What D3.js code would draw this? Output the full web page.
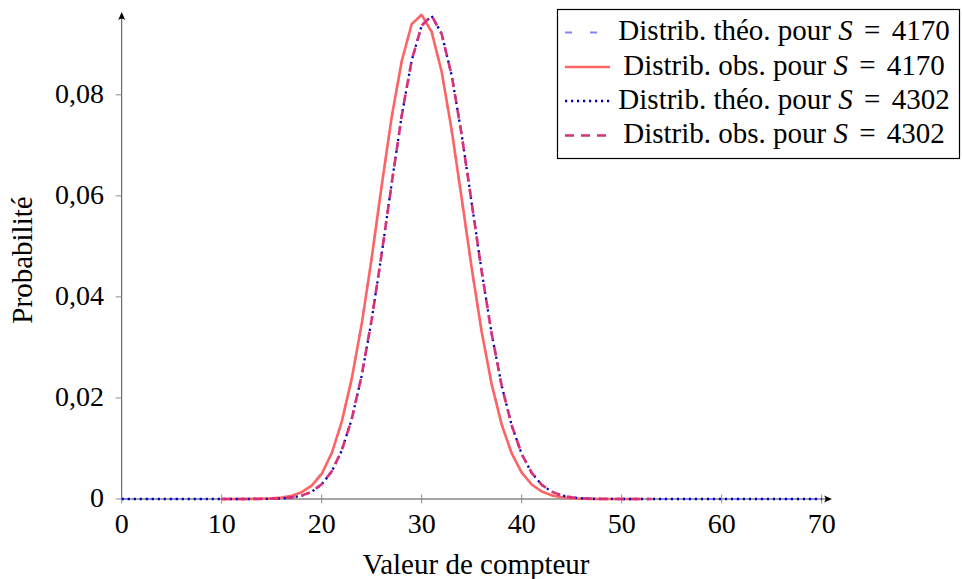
<!DOCTYPE html>
<html>
<head>
<meta charset="utf-8">
<script src="https://cdn.jsdelivr.net/npm/d3@7"></script>
<style>
  html, body { margin: 0; padding: 0; background: #fff; }
  svg { display: block; }
  text { font-family: "Liberation Serif", "Times New Roman", serif; fill: #000; }
</style>
</head>
<body>
<svg id="chart" width="962" height="579"></svg>
<script>
// Counter values (x axis)
const countsTheo = d3.range(0, 71);      // theoretical curves: 0..70
const countsObs4170 = d3.range(10, 53);  // observed, S = 4170
const countsObs4302 = d3.range(10, 54);  // observed, S = 4302

// Theoretical distribution, S = 4170 (values for counts 0..70)
const theo4170 = [
  0, 0, 0, 0, 0, 0, 0, 0, 0, 0,
  0, 0.000001, 0.000003, 0.000012, 0.000035, 0.000098, 0.000251, 0.000596, 0.001312, 0.002687,
  0.005124, 0.009125, 0.015202, 0.023729, 0.034757, 0.047833, 0.061922, 0.075475, 0.086694, 0.093910,
  0.095994, 0.092645, 0.084451, 0.072736, 0.059203, 0.045546, 0.033121, 0.022764, 0.014786, 0.009074,
  0.005261, 0.002879, 0.001487, 0.000724, 0.000332, 0.000144, 0.000058, 0.000022, 0.000008, 0.000003,
  0.000001, 0, 0, 0, 0, 0, 0, 0, 0, 0,
  0, 0, 0, 0, 0, 0, 0, 0, 0, 0,
  0
];

// Observed distribution, S = 4170 (counts 10..52)
const obs4170 = [
  0, 0, 0, 0.00002, 0.00005, 0.00012, 0.00029, 0.00064, 0.00136, 0.00265,
  0.00498, 0.00905, 0.01527, 0.02378, 0.03462, 0.04771, 0.06205, 0.07561, 0.08665, 0.09402,
  0.09582, 0.09241, 0.08452, 0.07296, 0.05948, 0.04573, 0.03305, 0.02268, 0.01471, 0.00904,
  0.00522, 0.00287, 0.00149, 0.00072, 0.00034, 0.00014, 0.00006, 0.00003, 0.00001, 0,
  0, 0, 0
];

// Theoretical distribution, S = 4302 (values for counts 0..70)
const theo4302 = [
  0, 0, 0, 0, 0, 0, 0, 0, 0, 0,
  0, 0, 0.000001, 0.000004, 0.000014, 0.000042, 0.000113, 0.000285, 0.000662, 0.001432,
  0.002886, 0.005431, 0.009559, 0.015765, 0.024400, 0.035480, 0.048529, 0.062499, 0.075853, 0.086817,
  0.093768, 0.095618, 0.092096, 0.083810, 0.072079, 0.058591, 0.045018, 0.032693, 0.022437, 0.014549,
  0.008911, 0.005153, 0.002812, 0.001447, 0.000702, 0.000320, 0.000138, 0.000056, 0.000021, 0.000008,
  0.000003, 0.000001, 0, 0, 0, 0, 0, 0, 0, 0,
  0, 0, 0, 0, 0, 0, 0, 0, 0, 0,
  0
];

// Observed distribution, S = 4302 (counts 10..53)
const obs4302 = [
  0, 0, 0, 0.00001, 0.00002, 0.00005, 0.00012, 0.00030, 0.00067, 0.00146,
  0.00292, 0.00547, 0.00960, 0.01581, 0.02447, 0.03552, 0.04860, 0.06244, 0.07580, 0.08688,
  0.09371, 0.09565, 0.09203, 0.08386, 0.07202, 0.05865, 0.04497, 0.03272, 0.02240, 0.01457,
  0.00889, 0.00517, 0.00280, 0.00146, 0.00070, 0.00032, 0.00014, 0.00006, 0.00002, 0.00001,
  0, 0, 0, 0
];

const xTicks = [0, 10, 20, 30, 40, 50, 60, 70];
const yTicks = [0, 0.02, 0.04, 0.06, 0.08];
const yTickLabels = ["0", "0,02", "0,04", "0,06", "0,08"];

const seriesNames = [
  { label: "Distrib. théo. pour ", s: "4170" },
  { label: "Distrib. obs. pour ", s: "4170" },
  { label: "Distrib. théo. pour ", s: "4302" },
  { label: "Distrib. obs. pour ", s: "4302" }
];

const series = [
  { xs: countsTheo, ys: theo4170, color: "#8484ff", width: 2, dash: "7,18" },
  { xs: countsObs4170, ys: obs4170, color: "#ff6464", width: 2.6, dash: null },
  { xs: countsTheo, ys: theo4302, color: "#0000b8", width: 2.3, dash: "2.2,3.8" },
  { xs: countsObs4302, ys: obs4302, color: "#d93078", width: 2.6, dash: "9,7" }
];

const svg = d3.select("#chart");

const x = d3.scaleLinear().domain([0, 70]).range([121.7, 821.7]);
const y = d3.scaleLinear().domain([0, 0.0958]).range([499, 15]);

const TICK_FONT = 28;
const FONT = 29;

// Axis lines with arrow tips
const axisColor = "#4a4a4a";
const axisG = svg.append("g");
axisG.append("line")
  .attr("x1", x(0)).attr("x2", 828).attr("y1", y(0)).attr("y2", y(0))
  .attr("stroke", axisColor).attr("stroke-width", 1);
axisG.append("line")
  .attr("x1", x(0)).attr("x2", x(0)).attr("y1", y(0)).attr("y2", 17)
  .attr("stroke", axisColor).attr("stroke-width", 1);
axisG.append("path")
  .attr("d", `M832,${y(0)} L824,${y(0) - 3.5} Q827,${y(0)} 824,${y(0) + 3.5} Z`)
  .attr("fill", "#000");
axisG.append("path")
  .attr("d", `M${x(0)},12 L${x(0) - 3.5},20 Q${x(0)},17 ${x(0) + 3.5},20 Z`)
  .attr("fill", "#000");

// X ticks and labels
const xg = svg.append("g");
xTicks.forEach(t => {
  xg.append("line")
    .attr("x1", x(t)).attr("x2", x(t)).attr("y1", y(0) - 4.5).attr("y2", y(0) + 4.5)
    .attr("stroke", "#8a8a8a").attr("stroke-width", 1);
  xg.append("text")
    .attr("x", x(t)).attr("y", 533)
    .attr("text-anchor", "middle")
    .attr("font-size", TICK_FONT)
    .text(t);
});

// Y ticks and labels
const yg = svg.append("g");
yTicks.forEach((t, i) => {
  yg.append("line")
    .attr("x1", x(0) - 6).attr("x2", x(0)).attr("y1", y(t)).attr("y2", y(t))
    .attr("stroke", "#8a8a8a").attr("stroke-width", 1);
  yg.append("text")
    .attr("x", 104).attr("y", y(t) + 8)
    .attr("text-anchor", "end")
    .attr("font-size", TICK_FONT)
    .text(yTickLabels[i]);
});

// Axis titles
svg.append("text")
  .attr("x", 476).attr("y", 574)
  .attr("text-anchor", "middle")
  .attr("font-size", FONT)
  .text("Valeur de compteur");

svg.append("text")
  .attr("transform", "translate(32,260) rotate(-90)")
  .attr("text-anchor", "middle")
  .attr("font-size", FONT)
  .text("Probabilité");

// Curves
const line = d3.line().x(d => x(d[0])).y(d => y(d[1]));
const plotG = svg.append("g");
series.forEach(s => {
  const pts = s.xs.map((v, i) => [v, s.ys[i]]);
  plotG.append("path")
    .datum(pts)
    .attr("d", line)
    .attr("fill", "none")
    .attr("stroke", s.color)
    .attr("stroke-width", s.width)
    .attr("stroke-linejoin", "round")
    .attr("stroke-dasharray", s.dash);
});

// Legend
const lg = svg.append("g");
lg.append("rect")
  .attr("x", 557.5).attr("y", 9.5).attr("width", 402).attr("height", 149)
  .attr("fill", "#fff").attr("stroke", "#000").attr("stroke-width", 1.2);

const baselines = [40, 74.5, 108.5, 143];
series.forEach((s, i) => {
  const yl = baselines[i] - 7.5;
  lg.append("line")
    .attr("x1", 565).attr("x2", 610).attr("y1", yl).attr("y2", yl)
    .attr("stroke", s.color)
    .attr("stroke-width", s.width)
    .attr("stroke-dasharray", s.dash);
  const t = lg.append("text")
    .attr("x", 784).attr("y", baselines[i])
    .attr("text-anchor", "middle")
    .attr("font-size", FONT);
  t.append("tspan").text(seriesNames[i].label);
  t.append("tspan").attr("font-style", "italic").text("S");
  t.append("tspan").attr("dx", 4).text(" = ");
  t.append("tspan").attr("dx", 4).text(seriesNames[i].s);
});
</script>
</body>
</html>
